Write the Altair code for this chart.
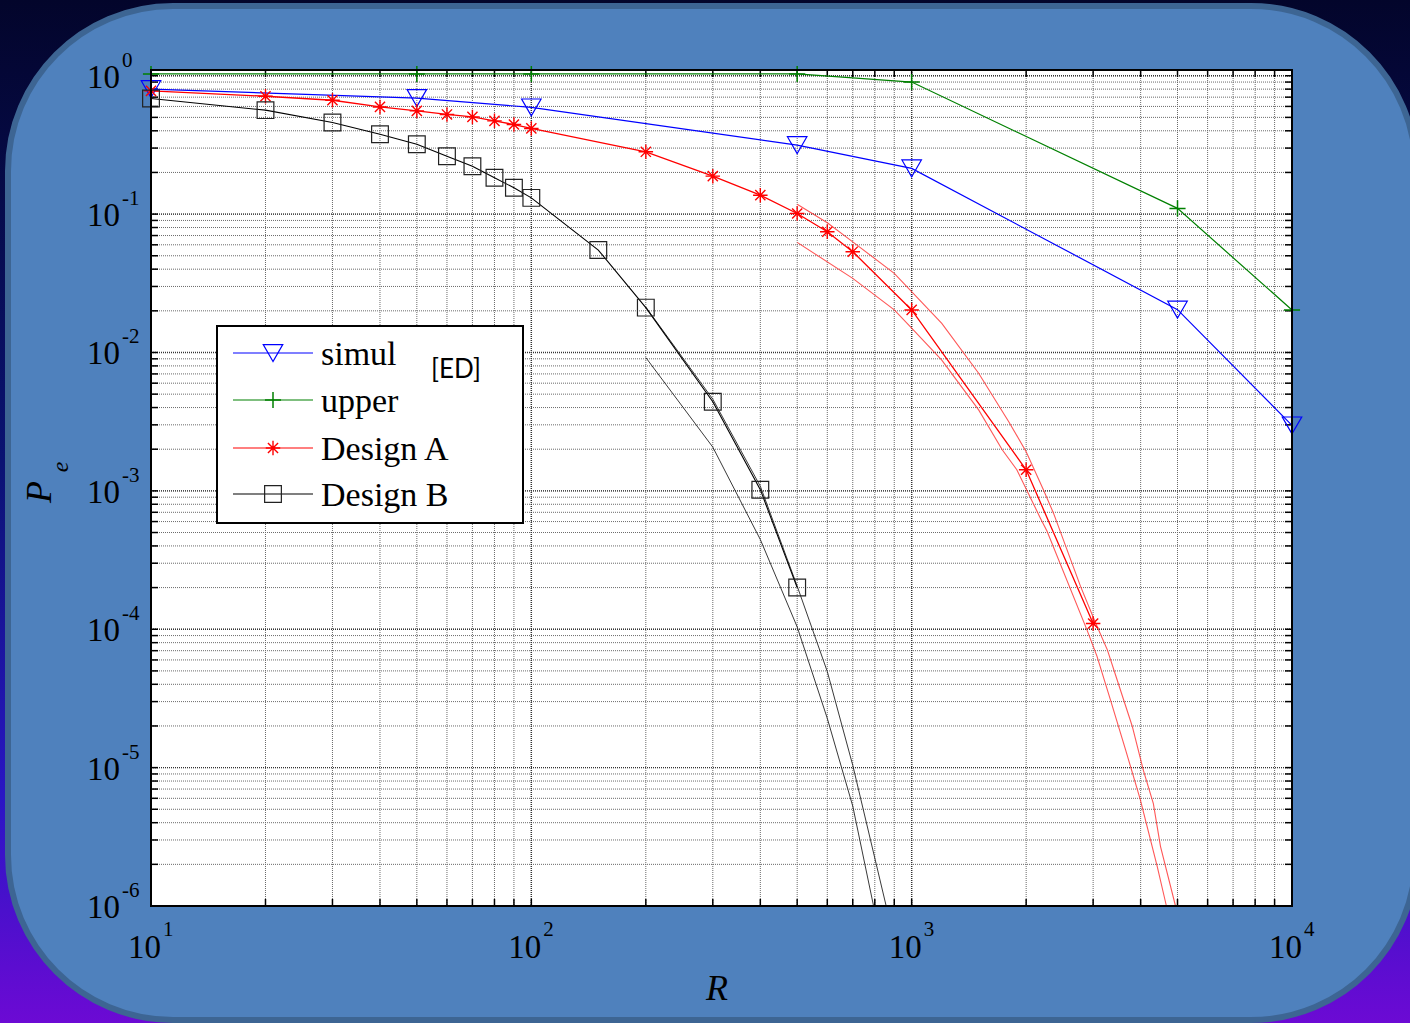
import altair as alt
import pandas as pd

# ---------------- data ----------------
simul_R = [10, 50, 100, 500, 1000, 5000, 10000]
simul_Pe = [0.80, 0.69, 0.59, 0.315, 0.214, 0.0204, 0.00297]

upper_R = [10, 50, 100, 500, 1000, 5000, 10000]
upper_Pe = [1.03, 1.03, 1.03, 1.03, 0.90, 0.11, 0.0203]

designA_R = [10, 20, 30, 40, 50, 60, 70, 80, 90, 100, 200, 300, 400, 500, 600, 700, 1000, 2000, 3000]
designA_Pe = [0.777, 0.711, 0.665, 0.595, 0.557, 0.525, 0.504, 0.472, 0.444, 0.416,
              0.282, 0.188, 0.137, 0.101, 0.0745, 0.0535, 0.0203, 0.00142, 0.00011]

designA_hi_R = [500, 600, 700, 900, 1200, 1500, 1800, 2000, 2220, 2360, 2780, 3045, 3270, 3470, 3800, 4065, 4320, 4510, 4940]
designA_hi_Pe = [0.118, 0.0866, 0.063, 0.0373, 0.01625, 0.00708, 0.00316, 0.00192, 0.00102, 6.9e-4,
                 2.04e-4, 1.11e-4, 7.1e-5, 4.3e-5, 2.0e-5, 9.6e-6, 5.5e-6, 2.7e-6, 1e-6]

designA_lo_R = [500, 700, 900, 1000, 1200, 1500, 1730, 1890, 2180, 2270, 2890, 3070, 3330, 3650, 3990, 4420, 4675]
designA_lo_Pe = [0.0625, 0.0343, 0.0203, 0.015, 0.0088, 0.00385, 0.00198, 0.00142, 6.35e-4, 5.1e-4,
                 9.9e-5, 6.4e-5, 3.1e-5, 1.35e-5, 5.9e-6, 1.94e-6, 1e-6]

designB_R = [10, 20, 30, 40, 50, 60, 70, 80, 90, 100, 150, 200, 300, 400, 500]
designB_Pe = [0.684, 0.564, 0.459, 0.378, 0.320, 0.262, 0.222, 0.183, 0.155, 0.131,
              0.055, 0.0211, 0.00441, 0.00102, 2.0e-4]

designB_hi_R = [200, 300, 400, 500, 600, 700, 857]
designB_hi_Pe = [0.0213, 0.0046, 0.00108, 2.05e-4, 4.95e-5, 1.04e-5, 1e-6]

designB_lo_R = [200, 300, 400, 500, 600, 700, 794]
designB_lo_Pe = [0.00919, 0.00207, 4.45e-4, 1.04e-4, 2.27e-5, 5.27e-6, 1e-6]

x_tick_values = [10, 100, 1000, 10000]
x_tick_exps = ["1", "2", "3", "4"]
y_tick_values = [1, 0.1, 0.01, 0.001, 0.0001, 0.00001, 0.000001]
y_tick_exps = ["0", "-1", "-2", "-3", "-4", "-5", "-6"]
minor_multipliers = [1, 2, 3, 4, 5, 6, 7, 8, 9]
x_decades = [10, 100, 1000]
y_decades = [0.000001, 0.00001, 0.0001, 0.001, 0.01, 0.1]

legend_labels = ["simul", "upper", "Design A", "Design B"]
x_title = "R"
y_title_main = "P"
y_title_sub = "e"
note_text = "[ED]"

# ---------------- layout ----------------
CW, CH = 1410, 1023
PL, PT = 151, 70
W, H = 1141, 836
PR, PB = CW - PL - W, CH - PT - H

SERIF = "Liberation Serif"
xs = alt.Scale(type="log", domain=[10, 10000], nice=False)
ys = alt.Scale(type="log", domain=[0.000001, 1.1], nice=False)

one = pd.DataFrame({"a": [0]})

x_grid = [m * d for d in x_decades for m in minor_multipliers] + [10000]
y_grid = [m * d for d in y_decades for m in minor_multipliers] + [1]
x_major = x_tick_values
y_major = y_tick_values

layers = []

# page background gradient
grad = alt.LinearGradient(
    gradient="linear",
    stops=[alt.GradientStop(color="#03052b", offset=0),
           alt.GradientStop(color="#0a1272", offset=0.45),
           alt.GradientStop(color="#2a16c4", offset=0.78),
           alt.GradientStop(color="#6c0ad4", offset=1)],
    x1=0, x2=0, y1=0, y2=1)
layers.append(alt.Chart(one).mark_rect(color=grad).encode(
    x=alt.value(-PL), x2=alt.value(CW - PL), y=alt.value(-PT), y2=alt.value(CH - PT)))

# rounded panel
layers.append(alt.Chart(one).mark_rect(fill="#4f81bd", stroke="#3d6593", strokeWidth=6,
                                        cornerRadius=165).encode(
    x=alt.value(8 - PL), x2=alt.value(1416 - PL), y=alt.value(6 - PT), y2=alt.value(1020 - PT)))

# white plot area
layers.append(alt.Chart(one).mark_rect(fill="white").encode(
    x=alt.value(0), x2=alt.value(W), y=alt.value(0), y2=alt.value(H)))

# grid lines
gx = pd.DataFrame({"gx": x_grid})
gy = pd.DataFrame({"gy": y_grid})
gxM = pd.DataFrame({"gx": x_major})
gyM = pd.DataFrame({"gy": y_major})
layers.append(alt.Chart(gx).mark_rule(color="#6a6a6a", strokeWidth=1, strokeDash=[1, 1]).encode(
    x=alt.X("gx:Q", scale=xs, axis=None)))
layers.append(alt.Chart(gy).mark_rule(color="#6a6a6a", strokeWidth=1, strokeDash=[1, 1]).encode(
    y=alt.Y("gy:Q", scale=ys, axis=None)))
layers.append(alt.Chart(gxM).mark_rule(color="#333333", strokeWidth=1.4, strokeDash=[1, 1]).encode(
    x=alt.X("gx:Q", scale=xs, axis=None)))
layers.append(alt.Chart(gyM).mark_rule(color="#333333", strokeWidth=1.4, strokeDash=[1, 1]).encode(
    y=alt.Y("gy:Q", scale=ys, axis=None)))

# inward ticks on four sides
TL = 7
layers.append(alt.Chart(gx).mark_rule(color="black", strokeWidth=1.5).encode(
    x=alt.X("gx:Q", scale=xs, axis=None), y=alt.value(0), y2=alt.value(TL)))
layers.append(alt.Chart(gx).mark_rule(color="black", strokeWidth=1.5).encode(
    x=alt.X("gx:Q", scale=xs, axis=None), y=alt.value(H - TL), y2=alt.value(H)))
layers.append(alt.Chart(gy).mark_rule(color="black", strokeWidth=1.5).encode(
    y=alt.Y("gy:Q", scale=ys, axis=None), x=alt.value(0), x2=alt.value(TL)))
layers.append(alt.Chart(gy).mark_rule(color="black", strokeWidth=1.5).encode(
    y=alt.Y("gy:Q", scale=ys, axis=None), x=alt.value(W - TL), x2=alt.value(W)))


def line(R, Pe, color, width, opacity=1.0):
    df = pd.DataFrame({"R": R, "Pe": Pe})
    return alt.Chart(df).mark_line(color=color, strokeWidth=width, opacity=opacity).encode(
        x=alt.X("R:Q", scale=xs, axis=None), y=alt.Y("Pe:Q", scale=ys, axis=None))


def pts(R, Pe, color, shape, size, sw=1.2):
    df = pd.DataFrame({"R": R, "Pe": Pe})
    return alt.Chart(df).mark_point(shape=shape, size=size, filled=False, color=color,
                                    strokeWidth=sw, opacity=1).encode(
        x=alt.X("R:Q", scale=xs, axis=None), y=alt.Y("Pe:Q", scale=ys, axis=None))


PLUS = "M-1,0L1,0M0,-1L0,1"
STAR = "M-1,0L1,0M0,-1L0,1M-0.7,-0.7L0.7,0.7M-0.7,0.7L0.7,-0.7"

BLUE, GREEN, RED, BLACK = "#0000ff", "#008000", "#ff0000", "#000000"

# bounds
layers.append(line(designA_hi_R, designA_hi_Pe, "#ff3a3a", 1.1, 0.85))
layers.append(line(designA_lo_R, designA_lo_Pe, "#ff3a3a", 1.1, 0.85))
layers.append(line(designB_hi_R, designB_hi_Pe, "#222222", 0.9))
layers.append(line(designB_lo_R, designB_lo_Pe, "#222222", 0.9))
# main series
layers.append(line(upper_R, upper_Pe, GREEN, 1.2))
layers.append(line(simul_R, simul_Pe, BLUE, 1.2))
layers.append(line(designA_R, designA_Pe, RED, 1.3))
layers.append(line(designB_R, designB_Pe, BLACK, 1.1))
layers.append(pts(upper_R, upper_Pe, GREEN, PLUS, 260, 1.5))
layers.append(pts(simul_R, simul_Pe, BLUE, "triangle-down", 380))
layers.append(pts(designA_R, designA_Pe, RED, STAR, 210, 1.4))
layers.append(pts(designB_R, designB_Pe, "#222222", "square", 280))

# plot border
layers.append(alt.Chart(one).mark_rect(fillOpacity=0, stroke="black", strokeWidth=2).encode(
    x=alt.value(0), x2=alt.value(W), y=alt.value(0), y2=alt.value(H)))

# tick labels
xl = pd.DataFrame({"v": x_tick_values, "e": x_tick_exps, "b": ["10"] * len(x_tick_values)})
yl = pd.DataFrame({"v": y_tick_values, "e": y_tick_exps, "b": ["10"] * len(y_tick_values)})
layers.append(alt.Chart(xl).mark_text(font=SERIF, fontSize=33, align="right", baseline="alphabetic",
                                      dx=10, color="black").encode(
    x=alt.X("v:Q", scale=xs, axis=None), y=alt.value(H + 52), text="b:N"))
layers.append(alt.Chart(xl).mark_text(font=SERIF, fontSize=21, align="left", baseline="alphabetic",
                                      dx=12, color="black").encode(
    x=alt.X("v:Q", scale=xs, axis=None), y=alt.value(H + 30), text="e:N"))
layers.append(alt.Chart(yl).mark_text(font=SERIF, fontSize=33, align="right", baseline="alphabetic",
                                      dy=12, color="black").encode(
    y=alt.Y("v:Q", scale=ys, axis=None), x=alt.value(-31), text="b:N"))
layers.append(alt.Chart(yl).mark_text(font=SERIF, fontSize=21, align="left", baseline="alphabetic",
                                      dy=-9, color="black").encode(
    y=alt.Y("v:Q", scale=ys, axis=None), x=alt.value(-29), text="e:N"))

# axis titles
layers.append(alt.Chart(one).mark_text(font=SERIF, fontSize=36, fontStyle="italic", align="center",
                                       baseline="alphabetic", color="black", text=x_title).encode(
    x=alt.value(717 - PL), y=alt.value(1000 - PT)))
layers.append(alt.Chart(one).mark_text(font=SERIF, fontSize=36, fontStyle="italic", align="center",
                                       baseline="middle", angle=270, color="black", text=y_title_main).encode(
    x=alt.value(40 - PL), y=alt.value(492 - PT)))
layers.append(alt.Chart(one).mark_text(font=SERIF, fontSize=24, fontStyle="italic", align="center",
                                       baseline="middle", angle=270, color="black", text=y_title_sub).encode(
    x=alt.value(61 - PL), y=alt.value(467 - PT)))

# legend (drawn by hand)
LX0, LX1, LY0, LY1 = 217 - PL, 523 - PL, 326 - PT, 523 - PT
layers.append(alt.Chart(one).mark_rect(fill="white", stroke="black", strokeWidth=2).encode(
    x=alt.value(LX0), x2=alt.value(LX1), y=alt.value(LY0), y2=alt.value(LY1)))
rows = [353 - PT, 400 - PT, 448 - PT, 494 - PT]
leg_style = [(BLUE, "triangle-down", 380, BLUE, 1.2),
             (GREEN, PLUS, 260, GREEN, 1.5),
             (RED, STAR, 210, RED, 1.4),
             (BLACK, "square", 280, "#222222", 1.2)]
for lab, ry, (lc, shp, sz, mc, msw) in zip(legend_labels, rows, leg_style):
    layers.append(alt.Chart(one).mark_rule(color=lc, strokeWidth=1.2).encode(
        x=alt.value(233 - PL), x2=alt.value(313 - PL), y=alt.value(ry)))
    layers.append(alt.Chart(one).mark_point(shape=shp, size=sz, filled=False, color=mc,
                                            strokeWidth=msw, opacity=1).encode(
        x=alt.value(273 - PL), y=alt.value(ry)))
    layers.append(alt.Chart(one).mark_text(font=SERIF, fontSize=34, align="left", baseline="alphabetic",
                                           color="black", text=lab).encode(
        x=alt.value(321 - PL), y=alt.value(ry + 12)))
layers.append(alt.Chart(one).mark_text(font="Lato", fontSize=26, align="center", baseline="middle",
                                       color="black", text=note_text).encode(
    x=alt.value(456 - PL), y=alt.value(370 - PT)))

chart = alt.layer(*layers).properties(
    width=W, height=H,
    autosize=alt.AutoSizeParams(type="none"),
    padding={"left": PL, "top": PT, "right": PR, "bottom": PB},
    background="#03052b",
).configure_view(strokeWidth=0)

chart.save("out.html", embed_options={"renderer": "svg", "actions": False})
